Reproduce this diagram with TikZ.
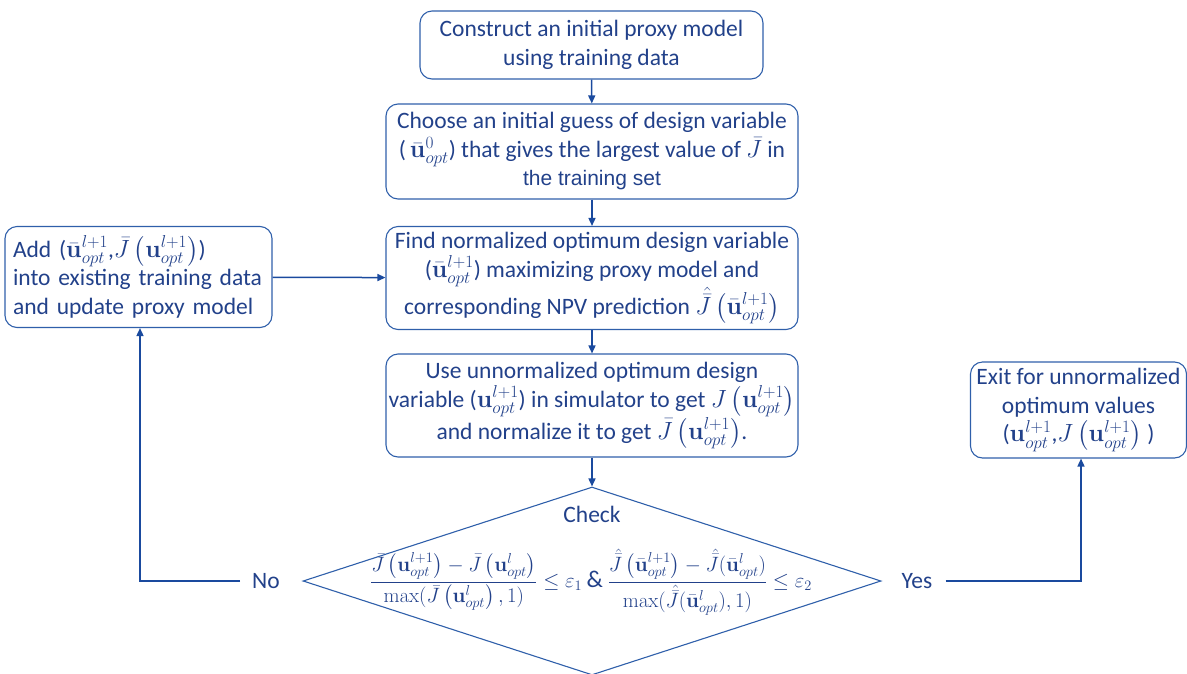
\documentclass[tikz,border=0pt]{standalone}
\usepackage{amsmath}
\usepackage[no-math]{fontspec}
\setmainfont{Carlito}
\newfontfamily\arialf{Liberation Sans}
\usetikzlibrary{shapes.geometric,arrows.meta}
\definecolor{boxblue}{HTML}{2F5FAA}
\definecolor{arrblue}{HTML}{1A4A9E}
\definecolor{txtblue}{HTML}{22418A}
\newcommand{\ubar}{\bar{\mathbf{u}}}
\newcommand{\ubf}{\mathbf{u}}
\begin{document}
\begin{tikzpicture}[x=1pt,y=-1pt,
  box/.style={draw=boxblue, line width=1.1pt, rounded corners=12pt, align=center,
    text=txtblue, font=\fontsize{23.5}{28.5}\selectfont, inner sep=0pt},
  arr/.style={draw=arrblue, line width=1.5pt, -{Triangle[length=8pt,width=7pt]}},
  lbl/.style={text=txtblue, font=\fontsize{23.5}{28}\selectfont, inner sep=3pt}]
\useasboundingbox (0,0) rectangle (1187,673);

\node[box, minimum width=343pt, minimum height=68pt] (b1) at (591.5,45)
  {Construct an initial proxy model\\using training data};
\node[box, minimum width=412pt, minimum height=95pt] (b2) at (592,151.5)
  {Choose an initial guess of design variable\\
   (\,$\ubar^{0}_{opt}$) that gives the largest value of $\bar{J}$ in\\
   {\arialf\fontsize{21}{28}\selectfont the training set}};
\node[box, minimum width=412pt, minimum height=103pt] (b3) at (592,278)
  {Find normalized optimum design variable\\
   ($\ubar^{l+1}_{opt}$) maximizing proxy model and\\
   corresponding NPV prediction $\hat{\bar{J}}\left(\ubar^{l+1}_{opt}\right)$};
\node[box, minimum width=412pt, minimum height=103pt] (b4) at (592,405.5)
  {Use unnormalized optimum design\\
   variable ($\ubf^{l+1}_{opt}$) in simulator to get $J\left(\ubf^{l+1}_{opt}\right)$\\
   and normalize it to get $\bar{J}\left(\ubf^{l+1}_{opt}\right)$.};
\node[box, align=left, minimum width=267pt, minimum height=101pt, text width=251pt] (add) at (138.5,277)
  {Add ($\ubar^{l+1}_{opt}$,$\bar{J}\left(\ubf^{l+1}_{opt}\right)$)\\
   into existing training data\\
   and update proxy model};
\node[box, minimum width=216pt, minimum height=96pt] (exit) at (1078.5,410)
  {Exit for unnormalized\\optimum values\\
   ($\ubf^{l+1}_{opt}$,$J\left(\ubf^{l+1}_{opt}\right)$ )};

\node[diamond, draw=boxblue, line width=1.1pt, minimum width=578pt, minimum height=188pt,
  inner sep=0pt, aspect=3.07] (chk) at (592,581) {};
\node[lbl] (chkt) at (592,514) {Check};
\node[lbl, font=\fontsize{19.8}{24}\selectfont] (form) at (591,582)
  {$\dfrac{\bar{J}\left(\ubf^{l+1}_{opt}\right)-\bar{J}\left(\ubf^{l}_{opt}\right)}{\max(\bar{J}\left(\ubf^{l}_{opt}\right),1)}\le\varepsilon_1$
   {\fontsize{24}{28}\selectfont\&}
   $\dfrac{\hat{\bar{J}}\left(\ubar^{l+1}_{opt}\right)-\hat{\bar{J}}(\ubar^{l}_{opt})}{\max(\hat{\bar{J}}(\ubar^{l}_{opt}),1)}\le\varepsilon_2$};

\node[lbl, inner sep=0pt] (no) at (266,581) {No};
\node[lbl, inner sep=0pt] (yes) at (917,581) {Yes};

\draw[arr] (b1) -- (b2);
\draw[arr] (b2) -- (b3);
\draw[arr] (b3) -- (b4);
\draw[arr] (b4) -- (chk.north);
\draw[arr] (add) -- (b3);
\draw[arr, shorten <=12pt] (no.west) -| ([xshift=1.5pt]add.south);
\draw[arr, shorten <=13pt] (yes.east) -| ([xshift=2.5pt]exit.south);
\end{tikzpicture}
\end{document}
